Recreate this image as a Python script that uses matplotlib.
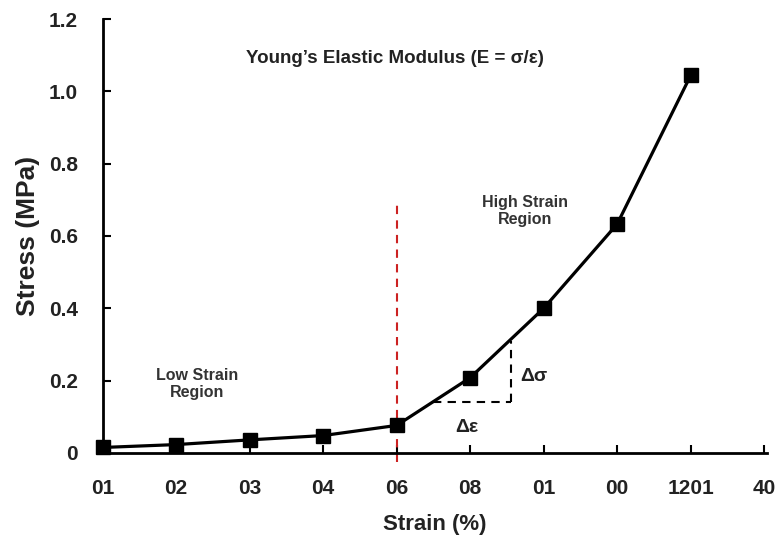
import matplotlib
matplotlib.use("Agg")
import matplotlib.pyplot as plt

plt.rcParams['font.family'] = ['Liberation Sans', 'DejaVu Sans']

tick_labels = ["01", "02", "03", "04", "06", "08", "01", "00", "1201", "40"]
x_idx = [0, 1, 2, 3, 4, 5, 6, 7, 8]
stress = [0.015, 0.023, 0.036, 0.048, 0.076, 0.208, 0.400, 0.633, 1.044]
y_ticks = [0, 0.2, 0.4, 0.6, 0.8, 1.0, 1.2]
y_tick_labels = ["0", "0.2", "0.4", "0.6", "0.8", "1.0", "1.2"]

fig = plt.figure(figsize=(7.78, 5.45), dpi=100)
ax = fig.add_axes([0.132, 0.169, 0.854, 0.796])

ax.plot(x_idx, stress, color='black', lw=2.3, marker='s', markersize=10.5,
        markerfacecolor='black', markeredgecolor='black', zorder=3, clip_on=False)

# vertical red dashed divider
ax.plot([4, 4], [-0.025, 0.70], color='#cc2222', lw=1.5, ls=(0, (4, 3)), clip_on=False, zorder=2)

# slope triangle
ax.plot([4.5, 5.55], [0.14, 0.14], color='black', lw=1.5, ls=(0, (4, 3)))
ax.plot([5.55, 5.55], [0.14, 0.31], color='black', lw=1.5, ls=(0, (4, 3)))
ax.text(5.86, 0.21, "Δσ", fontsize=14, fontweight='bold', ha='center', va='center', color='#222222')
ax.text(4.95, 0.07, "Δε", fontsize=14, fontweight='bold', ha='center', va='center', color='#222222')

ax.text(3.97, 1.09, "Young\u2019s Elastic Modulus (E = σ/ε)", fontsize=13.5, fontweight='bold',
        ha='center', va='center', color='#222222')
ax.text(5.74, 0.67, "High Strain\nRegion", fontsize=11.5, fontweight='bold',
        ha='center', va='center', color='#333333', linespacing=1.15)
ax.text(1.28, 0.19, "Low Strain\nRegion", fontsize=11.5, fontweight='bold',
        ha='center', va='center', color='#333333', linespacing=1.15)

ax.set_xlim(0, 9.04)
ax.set_ylim(0, 1.2)
ax.set_xticks(range(len(tick_labels)))
ax.set_xticklabels(tick_labels)
ax.set_yticks(y_ticks)
ax.set_yticklabels(y_tick_labels)

for s in ['top', 'right']:
    ax.spines[s].set_visible(False)
for s in ['left', 'bottom']:
    ax.spines[s].set_linewidth(2)
ax.tick_params(axis='both', direction='in', width=1.5, length=6, labelsize=15, colors='black')
ax.tick_params(axis='x', pad=19)
ax.tick_params(axis='y', pad=18)
for lbl in ax.get_xticklabels() + ax.get_yticklabels():
    lbl.set_fontweight('bold')
    lbl.set_color('#222222')

ax.set_xlabel("Strain (%)", fontsize=16, fontweight='bold', labelpad=11, color='#222222')
ax.set_ylabel("Stress (MPa)", fontsize=19, fontweight='bold', labelpad=6, color='#222222')

fig.savefig("out.png", dpi=100)
